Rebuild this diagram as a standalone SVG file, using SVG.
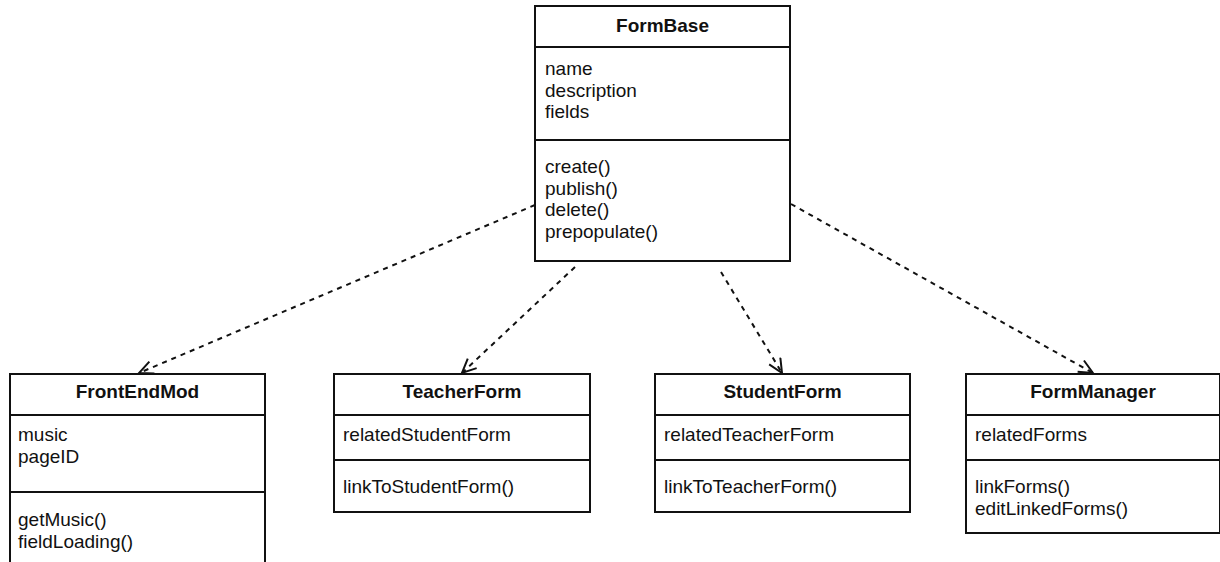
<svg xmlns="http://www.w3.org/2000/svg" width="1220" height="562" viewBox="0 0 1220 562">
<defs>
<style>
.box{fill:#fff;stroke:#111;stroke-width:2}
.sep{stroke:#111;stroke-width:2}
.t{font-family:"Liberation Sans",Arial,sans-serif;font-size:19px;fill:#111}
.h{font-family:"Liberation Sans",Arial,sans-serif;font-size:19px;font-weight:bold;fill:#111;text-anchor:middle}
.c{fill:none;stroke:#111;stroke-width:2;stroke-dasharray:5 5}
</style>
<marker id="arr" markerUnits="userSpaceOnUse" markerWidth="20" markerHeight="20" refX="15" refY="7.5" orient="auto">
<path d="M1,1 L15,7.5 L1,14" fill="none" stroke="#111" stroke-width="2"/>
</marker>
</defs>
<rect width="1220" height="562" fill="#fff"/>
<g id="connectors">
<line class="c" x1="535" y1="205" x2="139" y2="373" marker-end="url(#arr)"/>
<line class="c" x1="575" y1="267" x2="462" y2="373" marker-end="url(#arr)"/>
<line class="c" x1="721" y1="272" x2="782" y2="373" marker-end="url(#arr)"/>
<line class="c" x1="791" y1="204" x2="1093" y2="373" marker-end="url(#arr)"/>
</g>
<g id="FormBase">
<rect class="box" x="535" y="6" width="255" height="255"/>
<line class="sep" x1="535" y1="47" x2="790" y2="47"/>
<line class="sep" x1="535" y1="140" x2="790" y2="140"/>
<text class="h" x="662.5" y="32">FormBase</text>
<text class="t" x="545" y="75">name</text>
<text class="t" x="545" y="96.5">description</text>
<text class="t" x="545" y="118">fields</text>
<text class="t" x="545" y="173">create()</text>
<text class="t" x="545" y="194.5">publish()</text>
<text class="t" x="545" y="216">delete()</text>
<text class="t" x="545" y="237.5">prepopulate()</text>
</g>
<g id="FrontEndMod">
<rect class="box" x="10" y="374" width="255" height="200"/>
<line class="sep" x1="10" y1="415" x2="265" y2="415"/>
<line class="sep" x1="10" y1="492" x2="265" y2="492"/>
<text class="h" x="137.5" y="398">FrontEndMod</text>
<text class="t" x="18" y="441">music</text>
<text class="t" x="18" y="462.5">pageID</text>
<text class="t" x="18" y="526">getMusic()</text>
<text class="t" x="18" y="547.5">fieldLoading()</text>
</g>
<g id="TeacherForm">
<rect class="box" x="334" y="374" width="256" height="138"/>
<line class="sep" x1="334" y1="415" x2="590" y2="415"/>
<line class="sep" x1="334" y1="460" x2="590" y2="460"/>
<text class="h" x="462" y="398">TeacherForm</text>
<text class="t" x="343" y="441">relatedStudentForm</text>
<text class="t" x="343" y="493">linkToStudentForm()</text>
</g>
<g id="StudentForm">
<rect class="box" x="655" y="374" width="255" height="138"/>
<line class="sep" x1="655" y1="415" x2="910" y2="415"/>
<line class="sep" x1="655" y1="460" x2="910" y2="460"/>
<text class="h" x="782.5" y="398">StudentForm</text>
<text class="t" x="664" y="441">relatedTeacherForm</text>
<text class="t" x="664" y="493">linkToTeacherForm()</text>
</g>
<g id="FormManager">
<rect class="box" x="966" y="374" width="254" height="159"/>
<line class="sep" x1="966" y1="415" x2="1220" y2="415"/>
<line class="sep" x1="966" y1="460" x2="1220" y2="460"/>
<text class="h" x="1093" y="398">FormManager</text>
<text class="t" x="975" y="441">relatedForms</text>
<text class="t" x="975" y="493">linkForms()</text>
<text class="t" x="975" y="514.5">editLinkedForms()</text>
</g>
</svg>
